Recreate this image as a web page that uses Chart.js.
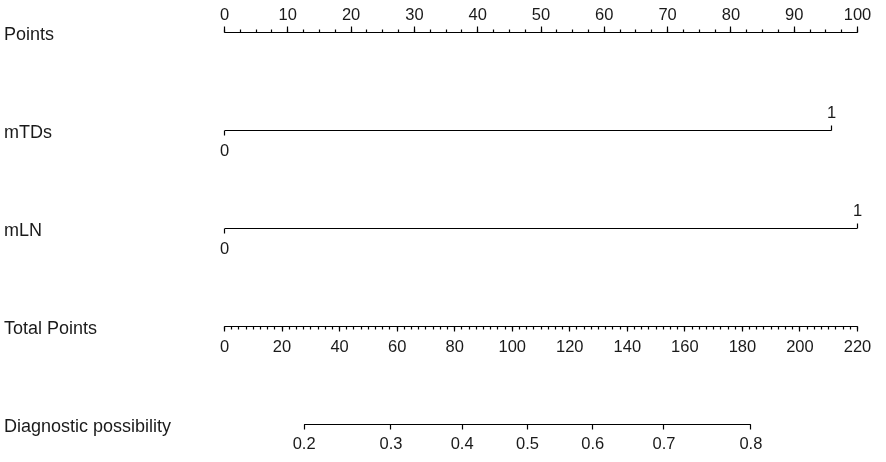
<!DOCTYPE html>
<html>
<head>
<meta charset="utf-8">
<script src="https://cdn.jsdelivr.net/npm/chart.js@4.4.1/dist/chart.umd.min.js"></script>
<style>
  html, body { margin: 0; padding: 0; background: #fff; }
  #wrap { width: 886px; height: 462px; }
</style>
</head>
<body>
<div id="wrap"><canvas id="nomo" width="886" height="462"></canvas></div>
<script>
// Row names, top to bottom
const rowLabels = ['Points', 'mTDs', 'mLN', 'Total Points', 'Diagnostic possibility']

// Points axis
const pointTicks = [0, 10, 20, 30, 40, 50, 60, 70, 80, 90, 100]
const pointMinorStep = 2.5

// Predictor levels and their points
const mTDsLevels = ['0', '1']
const mTDsPoints = [0, 95.9]
const mLNLevels = ['0', '1']
const mLNPoints = [0, 100]

// Total points axis
const totalTicks = [0, 20, 40, 60, 80, 100, 120, 140, 160, 180, 200, 220]
const totalMinorStep = 2.5

// Diagnostic possibility axis (logit of possibility vs total points)
const probTicks = [0.2, 0.3, 0.4, 0.5, 0.6, 0.7, 0.8]
const totalAtHalf = 105.3    // total points where possibility = 0.5
const totalPerLogit = 56.0   // total points per unit of log-odds

const LINE = '#000'
const TEXT = '#1a1a1a'
const FONT = '"Liberation Sans", Arial, sans-serif'

const probToTotal = p => totalAtHalf + totalPerLogit * Math.log(p / (1 - p))
const crisp = v => Math.round(v - 0.5) + 0.5

// Draw axes, ticks and labels of the nomogram rows from the chart's scales
const nomogramPlugin = {
  id: 'nomogram',
  afterDatasetsDraw(chart) {
    const ctx = chart.ctx
    const xs = chart.scales.x
    const xt = chart.scales.xTotal
    const ys = chart.scales.y
    const rowY = i => ys.getPixelForValue(i)

    ctx.save()
    ctx.strokeStyle = LINE
    ctx.lineWidth = 1.2
    ctx.fillStyle = TEXT

    const hLine = (x1, x2, y) => {
      ctx.beginPath(); ctx.moveTo(x1, y); ctx.lineTo(x2, y); ctx.stroke()
    }
    const vTick = (x, y, len) => {
      const cx = crisp(x)
      ctx.beginPath(); ctx.moveTo(cx, y); ctx.lineTo(cx, y + len); ctx.stroke()
    }

    // row names
    ctx.font = '18px ' + FONT
    ctx.textAlign = 'left'
    ctx.textBaseline = 'alphabetic'
    rowLabels.forEach((name, i) => ctx.fillText(name, 4, rowY(i) + 7.5))

    ctx.font = '16.5px ' + FONT
    ctx.textAlign = 'center'

    // Points axis: ticks and labels above
    let y = rowY(0)
    hLine(xs.getPixelForValue(pointTicks[0]), xs.getPixelForValue(pointTicks[pointTicks.length - 1]), y)
    for (let v = pointTicks[0]; v <= pointTicks[pointTicks.length - 1] + 1e-9; v += pointMinorStep) {
      vTick(xs.getPixelForValue(v), y, -3)
    }
    pointTicks.forEach(v => {
      const px = xs.getPixelForValue(v)
      vTick(px, y, -6)
      ctx.fillText(String(v), px, y - 12.5)
    })

    // Predictor rows: first level below, next above
    const predictorRow = (row, levels, pts) => {
      const yy = rowY(row)
      levels.forEach((lab, k) => {
        const px = xs.getPixelForValue(pts[k])
        if (k % 2 === 0) {
          vTick(px, yy, 5)
          ctx.fillText(lab, px, yy + 25.5)
        } else {
          vTick(px, yy, -5)
          ctx.fillText(lab, px, yy - 12.5)
        }
      })
    }
    predictorRow(1, mTDsLevels, mTDsPoints)
    predictorRow(2, mLNLevels, mLNPoints)

    // Total points axis: ticks and labels below
    y = rowY(3)
    hLine(xt.getPixelForValue(totalTicks[0]), xt.getPixelForValue(totalTicks[totalTicks.length - 1]), y)
    for (let v = totalTicks[0]; v <= totalTicks[totalTicks.length - 1] + 1e-9; v += totalMinorStep) {
      vTick(xt.getPixelForValue(v), y, 3)
    }
    totalTicks.forEach(v => {
      const px = xt.getPixelForValue(v)
      vTick(px, y, 5)
      ctx.fillText(String(v), px, y + 25)
    })

    // Diagnostic possibility axis
    y = rowY(4)
    hLine(xt.getPixelForValue(probToTotal(probTicks[0])),
          xt.getPixelForValue(probToTotal(probTicks[probTicks.length - 1])), y)
    probTicks.forEach(p => {
      const px = xt.getPixelForValue(probToTotal(p))
      vTick(px, y, 5)
      ctx.fillText(String(p), px, y + 24.5)
    })

    ctx.restore()
  }
}

const rowLine = (row, pts) => ({
  label: rowLabels[row],
  data: pts.map(p => ({ x: p, y: row })),
  showLine: true,
  borderColor: LINE,
  borderWidth: 1.2,
  pointRadius: 0,
  xAxisID: 'x',
  yAxisID: 'y'
})

new Chart(document.getElementById('nomo'), {
  type: 'scatter',
  data: {
    datasets: [
      rowLine(1, mTDsPoints),
      rowLine(2, mLNPoints)
    ]
  },
  options: {
    responsive: false,
    animation: false,
    events: [],
    layout: {
      padding: { left: 224.5, right: 28.5, top: 32.5, bottom: 37.5 }
    },
    scales: {
      x: { type: 'linear', min: 0, max: 100, display: false },
      xTotal: { type: 'linear', axis: 'x', min: 0, max: 220, display: false },
      y: { type: 'linear', min: 0, max: 4, reverse: true, display: false }
    },
    plugins: {
      legend: { display: false },
      tooltip: { enabled: false }
    }
  },
  plugins: [nomogramPlugin]
})
</script>
</body>
</html>
